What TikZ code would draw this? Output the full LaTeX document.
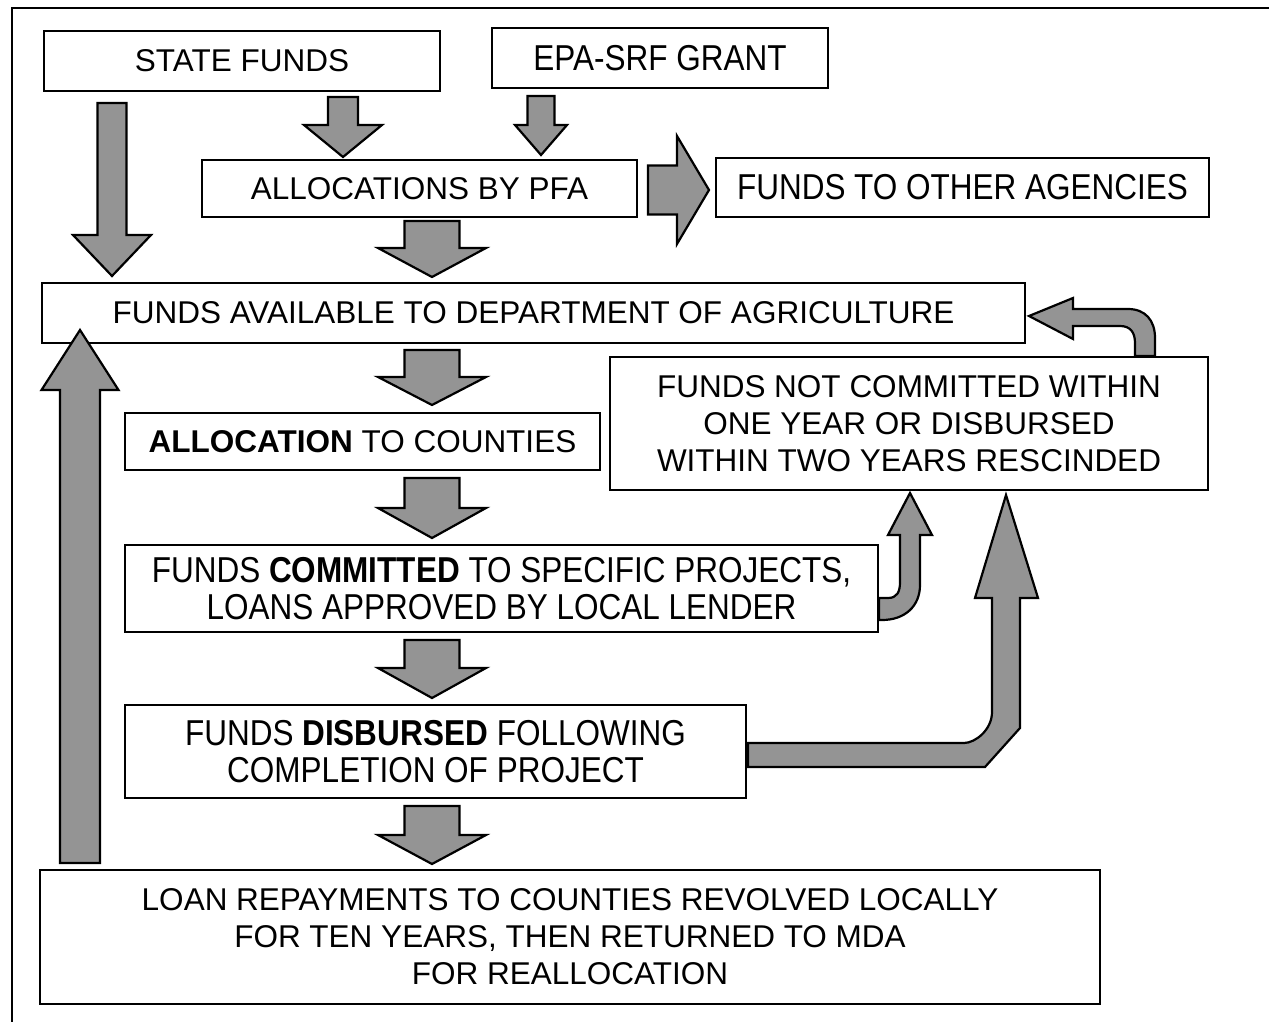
\documentclass[tikz,border=0pt]{standalone}
\usepackage{fontspec}
\setmainfont{Liberation Sans}
\newfontfamily\narrowfont[FakeStretch=0.875]{Liberation Sans}
\begin{document}
\begin{tikzpicture}[x=1pt,y=-1pt,
  box/.style={draw=black,line width=2.2pt,fill=white,inner sep=0pt,align=center,
    font=\fontsize{31.5}{37}\selectfont},
  nbox/.style={box,font=\narrowfont\fontsize{36}{37.5}\selectfont},
  blk/.style={draw=black,line width=2.2pt,fill=black!42,line join=miter},
  frame/.style={draw=black,line width=1.5pt}]
\useasboundingbox (0,0) rectangle (1269,1022);
\newcommand{\blockdown}[6]{%
  \draw[blk] ({#1-#5},#2) -- ({#1+#5},#2) -- ({#1+#5},#3) -- ({#1+#6},#3) -- (#1,#4)
    -- ({#1-#6},#3) -- ({#1-#5},#3) -- cycle;}
% outer frame (cut at right and bottom)
\draw[frame] (12,1030) -- (12,8) -- (1280,8);
% boxes
\node[box,minimum width=396pt,minimum height=60pt] (state) at (242,61) {STATE FUNDS};
\node[nbox,minimum width=336pt,minimum height=60pt] (epa) at (660,58) {EPA-SRF GRANT};
\node[box,minimum width=435pt,minimum height=57pt] (pfa) at (419.5,188.5) {ALLOCATIONS BY PFA};
\node[nbox,minimum width=493pt,minimum height=59pt] (other) at (962.5,187.5) {FUNDS TO OTHER AGENCIES};
\node[box,minimum width=983pt,minimum height=60pt] (fa) at (533.5,313) {FUNDS AVAILABLE TO DEPARTMENT OF AGRICULTURE};
\node[box,minimum width=475pt,minimum height=57pt] (alloc) at (362.5,441.5) {\textbf{ALLOCATION} TO COUNTIES};
\node[box,minimum width=598pt,minimum height=133pt] (nc) at (909,423.5) {FUNDS NOT COMMITTED WITHIN\\ONE YEAR OR DISBURSED\\WITHIN TWO YEARS RESCINDED};
\node[nbox,minimum width=753pt,minimum height=87pt] (comm) at (501.5,588.5) {FUNDS \textbf{COMMITTED} TO SPECIFIC PROJECTS,\\LOANS APPROVED BY LOCAL LENDER};
\node[nbox,minimum width=621pt,minimum height=93pt] (disb) at (435.5,751.5) {FUNDS \textbf{DISBURSED} FOLLOWING\\COMPLETION OF PROJECT};
\node[box,minimum width=1060pt,minimum height=134pt] (loan) at (570,937) {LOAN REPAYMENTS TO COUNTIES REVOLVED LOCALLY\\FOR TEN YEARS, THEN RETURNED TO MDA\\FOR REALLOCATION};
% straight down arrows
\blockdown{112}{103}{235}{276}{14.5}{39}
\blockdown{343}{97}{125}{157}{15}{39}
\blockdown{541}{96}{125}{155}{13.5}{26}
\blockdown{432}{221}{248}{277}{27.5}{54}
\blockdown{432}{350}{377}{405}{27.5}{54}
\blockdown{432}{478}{508}{538}{27.5}{54}
\blockdown{432}{640}{668}{698}{27.5}{54}
\blockdown{432}{806}{835}{864}{27.5}{54}
% long up arrow (repayments back to funds available)
\draw[blk] (60,863) -- (100,863) -- (100,390) -- (118.5,390) -- (80,330) -- (41.5,390) -- (60,390) -- cycle;
% right arrow to other agencies
\draw[blk] (648,165.5) -- (677,165.5) -- (677,136) -- (709,190) -- (677,244) -- (677,214.5) -- (648,214.5) -- cycle;
% curved arrow: rescinded funds back to funds available
\draw[blk] (1029,316) -- (1073,298) -- (1073,309) -- (1128,309)
  .. controls (1145,309) and (1155,320) .. (1155,338) -- (1155,356) -- (1135,356) -- (1135,343)
  .. controls (1135,332) and (1130,326) .. (1120,326) -- (1073,326) -- (1073,339) -- cycle;
% small curved arrow: committed -> rescinded
\draw[blk] (910,493) -- (932,535) -- (920,535) -- (920,585)
  .. controls (920,606) and (905,620) .. (882,620) -- (879,620) -- (879,598) -- (888,598)
  .. controls (897,598) and (900,592) .. (900,582) -- (900,535) -- (888,535) -- cycle;
% big bent arrow: disbursed -> rescinded
\draw[blk] (748,743) -- (964,743) .. controls (975,743) and (992,730) .. (992,712)
  -- (992,598) -- (975,598) -- (1006,495) -- (1038,598) -- (1020,598) -- (1020,728)
  -- (985,767) -- (748,767) -- cycle;
\end{tikzpicture}
\end{document}
